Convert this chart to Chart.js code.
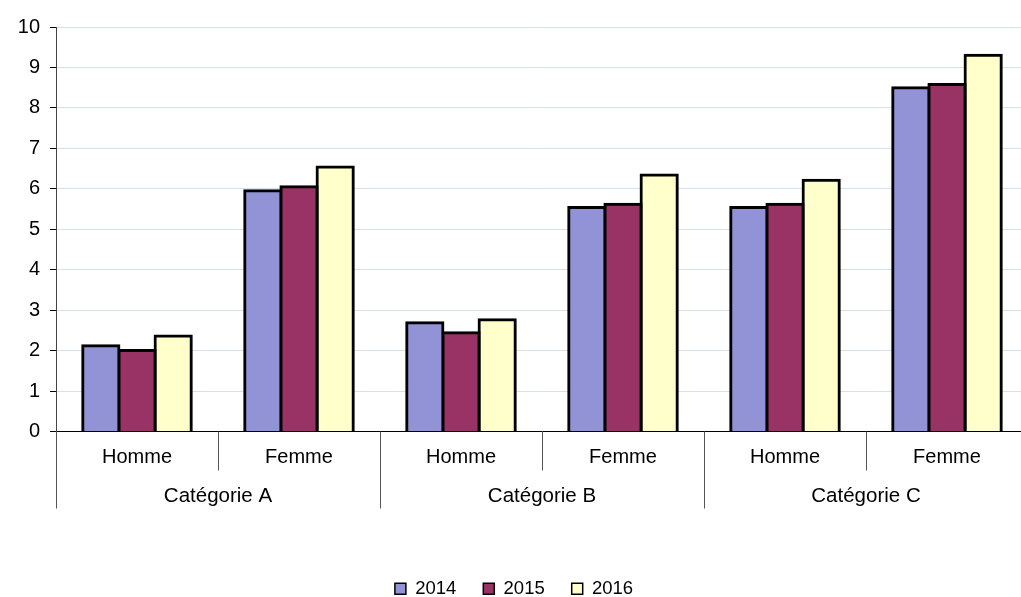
<!DOCTYPE html>
<html>
<head>
<meta charset="utf-8">
<script src="https://cdn.jsdelivr.net/npm/chart.js@4"></script>
<style>
    html, body { margin: 0; padding: 0; background: #fff; overflow: hidden; }
    #wrap { position: relative; width: 1028px; height: 608px; }
</style>
</head>
<body>
<div id="wrap"><canvas id="chart"></canvas></div>
<script>
// ================== DATA ==================
const subLabels = ['Homme', 'Femme', 'Homme', 'Femme', 'Homme', 'Femme'];
const groupLabels = ['Catégorie A', 'Catégorie B', 'Catégorie C'];
const years = ['2014', '2015', '2016'];
const values2014 = [2.12, 5.95, 2.69, 5.54, 5.54, 8.50];
const values2015 = [2.00, 6.05, 2.44, 5.62, 5.62, 8.58];
const values2016 = [2.36, 6.54, 2.76, 6.34, 6.21, 9.30];
const yTicks = [0, 1, 2, 3, 4, 5, 6, 7, 8, 9, 10];

const FONT = "'Liberation Sans', Arial, sans-serif";
const colors = ['#9292d6', '#993366', '#ffffcc'];

// --- two-level category axis: group labels + separators ---
const groupAxisPlugin = {
    id: 'groupAxis',
    afterDraw(chart) {
        const x = chart.scales.x;
        const ctx = chart.ctx;
        const axisY = chart.chartArea.bottom;
        const step = x.getPixelForValue(1) - x.getPixelForValue(0);
        ctx.save();
        ctx.strokeStyle = '#555';
        ctx.lineWidth = 1;
        for (let i = 0; i <= subLabels.length; i++) {
            const bx = Math.round(x.getPixelForValue(i) - step / 2) + 0.5;
            const len = i % 2 === 0 ? 77 : 39;
            ctx.beginPath();
            ctx.moveTo(bx, axisY);
            ctx.lineTo(bx, axisY + len);
            ctx.stroke();
        }
        ctx.fillStyle = '#000';
        ctx.font = '20.5px ' + FONT;
        ctx.textAlign = 'center';
        ctx.textBaseline = 'middle';
        groupLabels.forEach((g, i) => {
            const cx = (x.getPixelForValue(i * 2) + x.getPixelForValue(i * 2 + 1)) / 2;
            ctx.fillText(g, cx, axisY + 65);
        });
        ctx.restore();
    }
};

const datasets = [values2014, values2015, values2016].map((vals, i) => ({
    label: years[i],
    data: vals,
    backgroundColor: colors[i],
    borderColor: '#000',
    borderWidth: 3,
    inflateAmount: 1.5,
    borderSkipped: 'bottom',
    barPercentage: 1.0,
    categoryPercentage: 0.67
}));

new Chart(document.getElementById('chart'), {
    type: 'bar',
    data: { labels: subLabels, datasets },
    options: {
        responsive: true,
        maintainAspectRatio: false,
        animation: false,
        layout: { padding: { top: 27, right: 0, left: 0, bottom: 0 } },
        plugins: {
            legend: {
                position: 'bottom',
                labels: {
                    boxWidth: 11,
                    boxHeight: 11,
                    padding: 27,
                    color: '#000',
                    font: { family: FONT, size: 18.5 },
                    generateLabels(chart) {
                        return chart.data.datasets.map((d, i) => ({
                            text: d.label,
                            fillStyle: d.backgroundColor,
                            strokeStyle: '#000',
                            lineWidth: 1.5,
                            datasetIndex: i
                        }));
                    }
                }
            },
            tooltip: { enabled: false }
        },
        scales: {
            x: {
                grid: { display: false, drawTicks: false },
                border: { display: true, color: '#000', width: 1 },
                ticks: {
                    color: '#000',
                    font: { family: FONT, size: 20 },
                    padding: 14,
                    maxRotation: 0
                },
                afterFit(scale) { scale.height = 121; }
            },
            y: {
                min: 0,
                max: 10,
                afterBuildTicks(scale) { scale.ticks = yTicks.map(v => ({ value: v })); },
                grid: { color: '#d3e1f1', tickColor: '#000', tickLength: 6, lineWidth: 1 },
                border: { display: true, color: '#444', width: 1 },
                ticks: {
                    color: '#000',
                    font: { family: FONT, size: 20 },
                    padding: 10
                },
                afterFit(scale) { scale.width = 56; }
            }
        }
    },
    plugins: [groupAxisPlugin]
});
</script>
</body>
</html>
